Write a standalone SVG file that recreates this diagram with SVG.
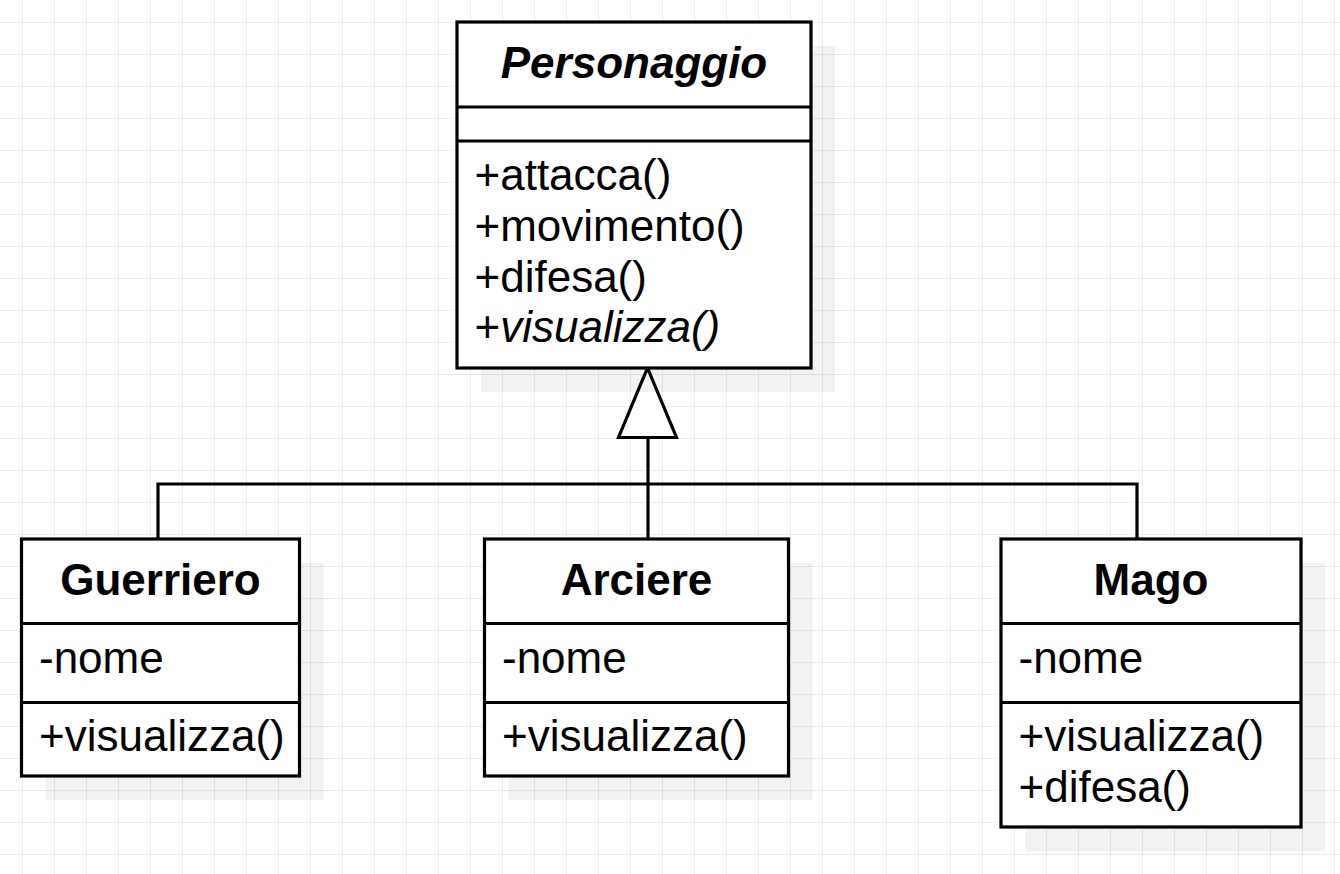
<svg xmlns="http://www.w3.org/2000/svg" width="1340" height="874" viewBox="0 0 1340 874">
<defs>
<pattern id="grid" x="22" y="22" width="32" height="32" patternUnits="userSpaceOnUse">
<path d="M0 0.5H32M0.5 0V32" stroke="#ebebeb" stroke-width="1" fill="none"/>
</pattern>
</defs>
<style>
.box{fill:#ffffff;stroke:#000;stroke-width:3.2}
.sh{fill:#000;fill-opacity:0.052;stroke:none}
.ln{stroke:#000;stroke-width:3.2;fill:none}
.t{font-family:"Liberation Sans",Arial,sans-serif;font-size:44px;fill:#000}
.title{font-weight:bold;text-anchor:middle}
.it{font-style:italic}
</style>
<rect width="1340" height="874" fill="#ffffff"/>
<rect width="1340" height="874" fill="url(#grid)"/>

<g id="connectors">
<path class="ln" d="M158 539V484H1137V539"/>
<path class="ln" d="M648 539V437.5"/>
<polygon points="647.5,368 676.5,437.5 618.5,437.5" fill="#ffffff" stroke="#000" stroke-width="3.2" stroke-linejoin="miter"/>
</g>

<g id="Personaggio">
<rect class="sh" x="481" y="46" width="354" height="346"/>
<rect class="box" x="457" y="22" width="354" height="346"/>
<path class="ln" d="M457 107H811M457 141H811"/>
<text class="t title it" x="634" y="78">Personaggio</text>
<text class="t" x="474.5" y="190">+attacca()</text>
<text class="t" x="474.5" y="241">+movimento()</text>
<text class="t" x="474.5" y="291.5">+difesa()</text>
<text class="t" x="474.5" y="342">+<tspan class="it">visualizza()</tspan></text>
</g>

<g id="Guerriero">
<rect class="sh" x="45.5" y="563" width="278" height="237"/>
<rect class="box" x="21.5" y="539" width="278" height="237"/>
<path class="ln" d="M21.5 623.5H299.5M21.5 702.5H299.5"/>
<text class="t title" x="160.5" y="595">Guerriero</text>
<text class="t" x="39" y="672.5">-nome</text>
<text class="t" x="39" y="750.5">+visualizza()</text>
</g>

<g id="Arciere">
<rect class="sh" x="508.5" y="563" width="304" height="237"/>
<rect class="box" x="484.5" y="539" width="304" height="237"/>
<path class="ln" d="M484.5 623.5H788.5M484.5 702.5H788.5"/>
<text class="t title" x="636.5" y="595">Arciere</text>
<text class="t" x="502" y="672.5">-nome</text>
<text class="t" x="502" y="750.5">+visualizza()</text>
</g>

<g id="Mago">
<rect class="sh" x="1025" y="563" width="300" height="288"/>
<rect class="box" x="1001" y="539" width="300" height="288"/>
<path class="ln" d="M1001 623.5H1301M1001 702.5H1301"/>
<text class="t title" x="1151" y="595">Mago</text>
<text class="t" x="1018.5" y="672.5">-nome</text>
<text class="t" x="1018.5" y="750.5">+visualizza()</text>
<text class="t" x="1018.5" y="801.5">+difesa()</text>
</g>
</svg>
